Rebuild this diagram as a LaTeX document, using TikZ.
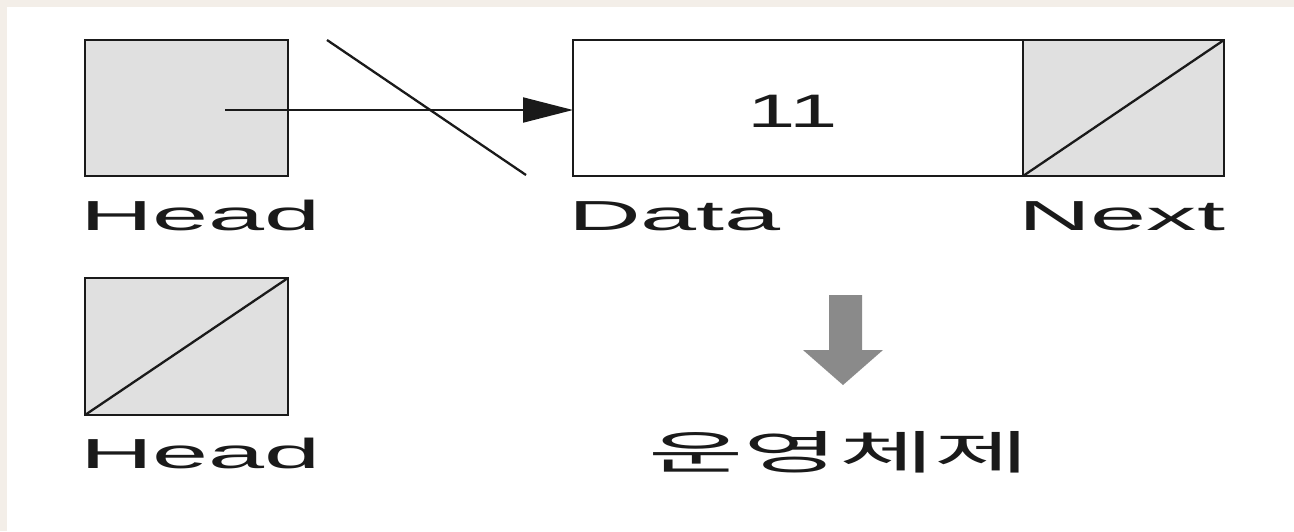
\documentclass[tikz,border=0pt]{standalone}
\usepackage{fontspec}
\usetikzlibrary{arrows.meta}
\newfontfamily\latwide{Liberation Sans}[FakeStretch=2.4]
\newfontfamily\latmid{Liberation Sans}[FakeStretch=1.85]
\newfontfamily\korwide{Noto Sans CJK KR}[FakeStretch=2.25]
\definecolor{beige}{HTML}{F3EEE8}
\definecolor{cellgray}{HTML}{E0E0E0}
\definecolor{arrowgray}{HTML}{8A8A8A}
\definecolor{ink}{HTML}{1A1A1A}
\tikzset{
  cell/.style={draw=ink, line width=2.3pt, rectangle, inner sep=0pt, outer sep=0pt},
  lbl/.style={inner sep=0pt, outer sep=0pt, anchor=base west, text=ink, font=\latwide\fontsize{42}{50}\selectfont},
  thin/.style={draw=ink, line width=2.3pt},
}
\begin{document}
\begin{tikzpicture}[x=1pt,y=-1pt]
\useasboundingbox (0,0) rectangle (1294,531);
\fill[white] (0,0) rectangle (1294,531);
\fill[beige] (0,0) rectangle (1294,6.5);
\fill[beige] (0,0) rectangle (7,531);

% top row
\node[cell, fill=cellgray, minimum width=203pt, minimum height=136pt] (head1) at (186.5,108) {};
\node[cell, fill=white, minimum width=450pt, minimum height=136pt] (data) at (798,108) {};
\node[cell, fill=cellgray, minimum width=201pt, minimum height=136pt] (next) at (1123.5,108) {};
\node[inner sep=0pt, text=ink, font=\latmid\fontsize{47}{50}\selectfont] (val) at (793,111) {11};
\draw[thin] (next.south west) -- (next.north east);

\coordinate (ptr) at (225,110);
\coordinate (cutA) at (327,40);
\coordinate (cutB) at (526,175);
\draw[draw=ink, line width=2pt, -{Triangle[length=50pt,width=25pt]}] (ptr) -- (ptr -| data.west);
\draw[thin] (cutA) -- (cutB);

\node[lbl] (lh1) at (80,230) {Head};
\node[lbl] (ld) at (568,230) {Data};
\node[lbl] (ln) at (1018,230) {Next};

% bottom row
\node[cell, fill=cellgray, minimum width=203pt, minimum height=137pt] (head2) at (186.5,346.5) {};
\draw[thin] (head2.south west) -- (head2.north east);
\node[lbl] (lh2) at (80,468) {Head};

\fill[arrowgray] (829,295) -- (862,295) -- (862,350) -- (883,350) -- (843,385) -- (803,350) -- (829,350) -- cycle;
\node[inner sep=0pt, text=ink, font=\korwide\fontsize{46}{50}\selectfont] (os) at (839,452) {운영체제};
\end{tikzpicture}
\end{document}
